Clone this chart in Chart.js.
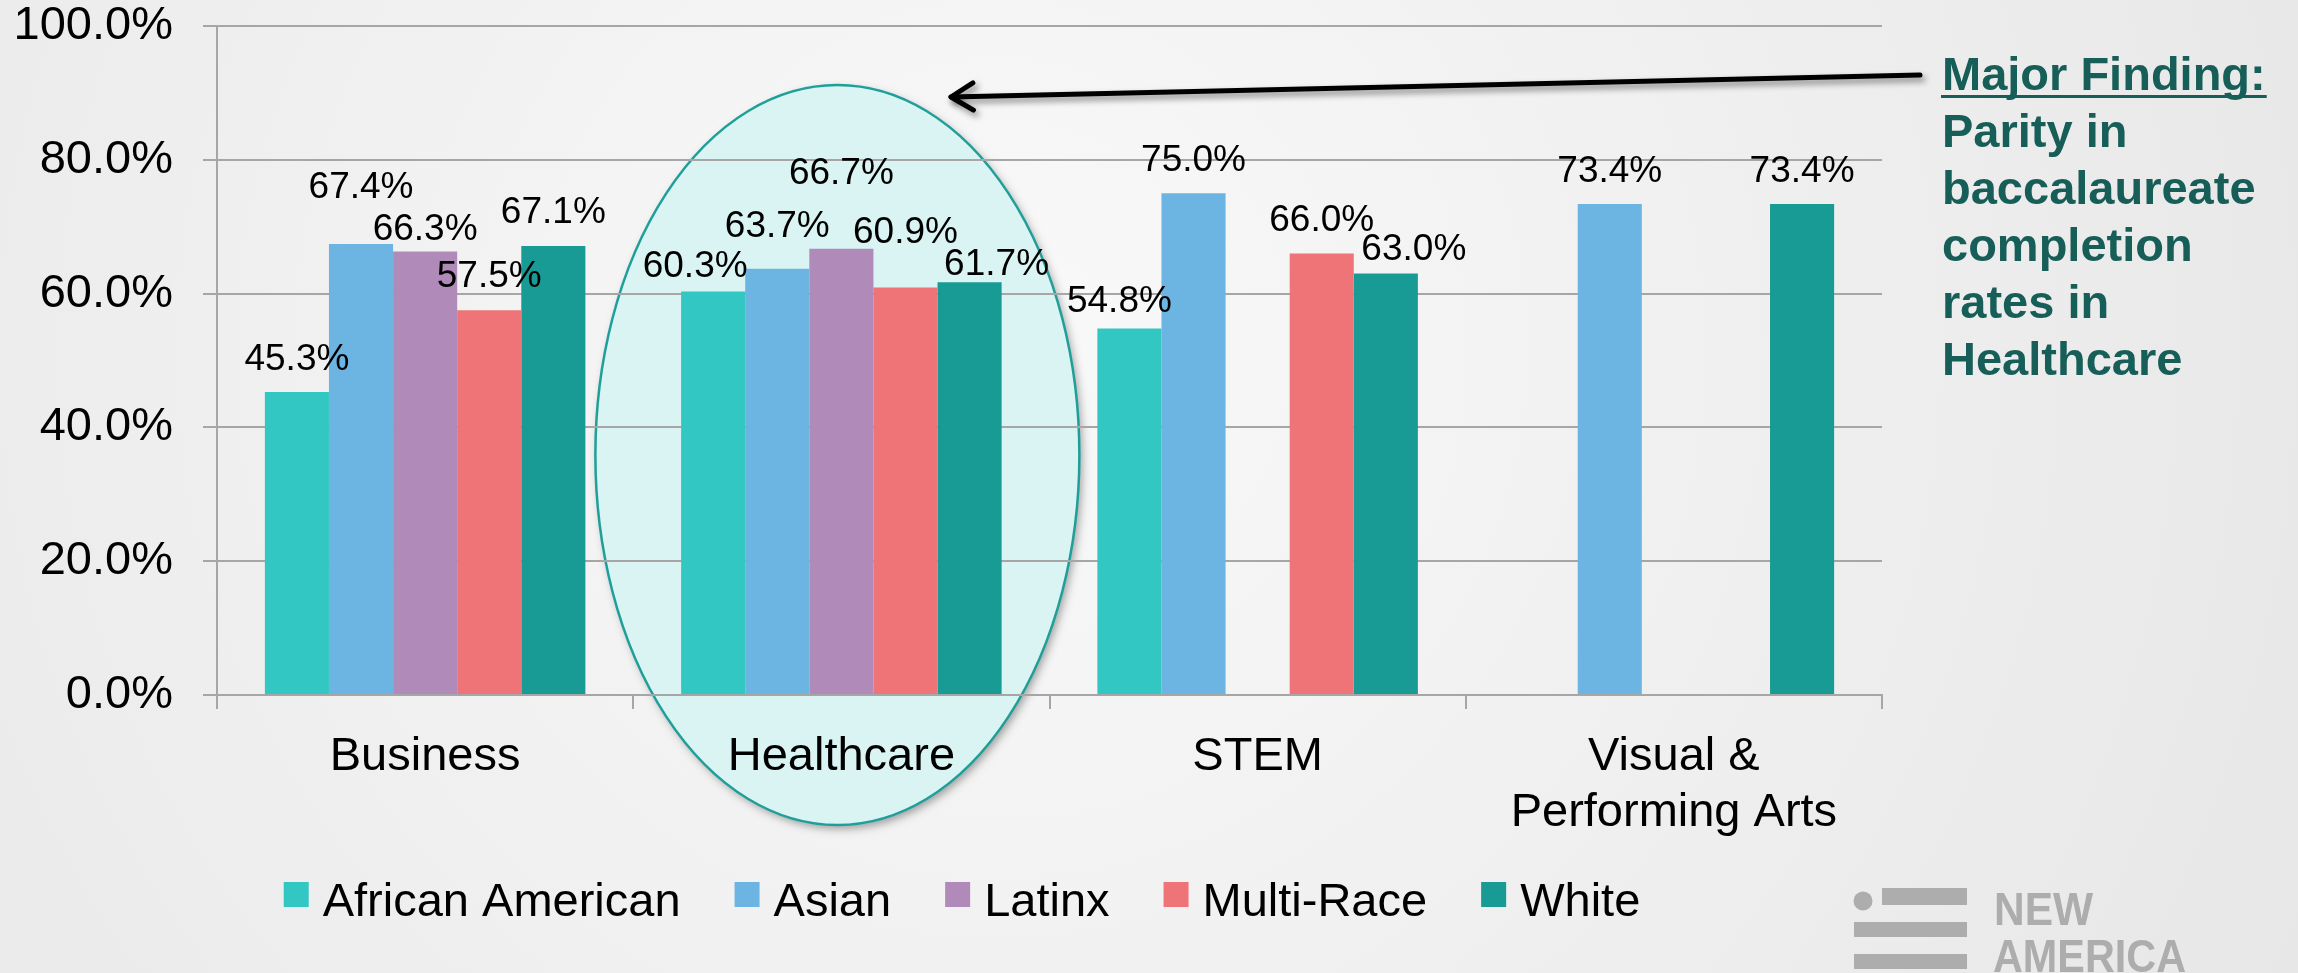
<!DOCTYPE html>
<html>
<head>
<meta charset="utf-8">
<script src="https://cdn.jsdelivr.net/npm/chart.js@4.4.1/dist/chart.umd.min.js"></script>
<style>
  html, body { margin: 0; padding: 0; background: #eeeeee; }
  #wrap { width: 2298px; height: 973px; }
</style>
</head>
<body>
<div id="wrap"><canvas id="myChart" width="2298" height="973"></canvas></div>
<script>
// data (percent completion)
var categories = ["Business", "Healthcare", "STEM", ["Visual &", "Performing Arts"]];
var africanAmerican = [45.3, 60.3, 54.8, null];
var asian = [67.4, 63.7, 75.0, 73.4];
var latinx = [66.3, 66.7, null, null];
var multiRace = [57.5, 60.9, 66.0, null];
var white = [67.1, 61.7, 63.0, 73.4];
var yTicks = [0, 20, 40, 60, 80, 100];
var seriesNames = ["African American", "Asian", "Latinx", "Multi-Race", "White"];

var seriesColors = ["#33c7c3", "#6cb4e1", "#b08bba", "#ee7477", "#189b95"];
var FONT = "'Liberation Sans', Arial, sans-serif";
var GRID = "#a6a6a6";

// hand nudges of the value labels (px), one [dx, dy] per bar, like on the slide
var labelNudge = [
  [[0, 0], [-18, 7], [-10, 6], [0, 0]],
  [[0, -24], [0, -10], [0, 0], [0, 0]],
  [[0, 11], [0, -43], [0, 0], [0, 0]],
  [[0, -1], [0, -23], [0, 0], [0, 0]],
  [[0, -1], [27, 15], [28, 8], [0, 0]]
];

var seriesValues = [africanAmerican, asian, latinx, multiRace, white];

// background, and the ellipse round Healthcare (under the grid)
var backdrop = {
  id: "backdrop",
  beforeDraw: function(chart) {
    var ctx = chart.ctx;
    ctx.save();
    var g = ctx.createRadialGradient(1000, 350, 0, 1000, 350, 1500);
    g.addColorStop(0, "#f9f9f9");
    g.addColorStop(1, "#e6e6e6");
    ctx.fillStyle = g;
    ctx.fillRect(0, 0, chart.width, chart.height);

    var cx = chart.scales.x.getPixelForValue(1) - 4;
    ctx.beginPath();
    ctx.ellipse(cx, 455, 242, 370, 0, 0, Math.PI * 2);
    ctx.shadowColor = "rgba(0,0,0,0.35)";
    ctx.shadowBlur = 8;
    ctx.shadowOffsetX = 3;
    ctx.shadowOffsetY = 4;
    ctx.fillStyle = "#d9f4f3";
    ctx.fill();
    ctx.shadowColor = "transparent";
    ctx.lineWidth = 2.5;
    ctx.strokeStyle = "#1f9f99";
    ctx.stroke();
    ctx.restore();
  }
};

// value labels above the bars
var valueLabels = {
  id: "valueLabels",
  afterDatasetsDraw: function(chart) {
    var ctx = chart.ctx;
    ctx.save();
    ctx.font = "37px " + FONT;
    ctx.fillStyle = "#000";
    ctx.textAlign = "center";
    ctx.textBaseline = "alphabetic";
    chart.data.datasets.forEach(function(ds, di) {
      var meta = chart.getDatasetMeta(di);
      meta.data.forEach(function(bar, i) {
        var v = ds.data[i];
        if (v === null) return;
        var n = labelNudge[di][i];
        ctx.fillText(v.toFixed(1) + "%", bar.x + n[0], bar.y - 22 + n[1]);
      });
    });
    ctx.restore();
  }
};

// legend, arrow, call-out text and logo
var extras = {
  id: "extras",
  afterDraw: function(chart) {
    var ctx = chart.ctx;
    ctx.save();

    // legend
    ctx.font = "47px " + FONT;
    ctx.textBaseline = "alphabetic";
    ctx.textAlign = "left";
    var box = 25, gapIn = 14, gapOut = 54;
    var widths = seriesNames.map(function(s) { return ctx.measureText(s).width; });
    var total = 0;
    widths.forEach(function(w) { total += box + gapIn + w; });
    total += gapOut * (widths.length - 1);
    var lx = 962 - total / 2;
    chart.data.datasets.forEach(function(ds, i) {
      ctx.fillStyle = ds.backgroundColor;
      ctx.fillRect(lx, 882, box, box);
      ctx.fillStyle = "#000";
      ctx.fillText(ds.label, lx + box + gapIn, 916);
      lx += box + gapIn + widths[i] + gapOut;
    });

    // arrow
    ctx.shadowColor = "rgba(0,0,0,0.45)";
    ctx.shadowBlur = 6;
    ctx.shadowOffsetX = 3;
    ctx.shadowOffsetY = 4;
    ctx.strokeStyle = "#000";
    ctx.lineWidth = 5;
    ctx.lineCap = "round";
    ctx.lineJoin = "round";
    var tx = 951, ty = 97, sx = 1920, sy = 75;
    var ang = Math.atan2(sy - ty, sx - tx);
    ctx.beginPath();
    ctx.moveTo(sx, sy);
    ctx.lineTo(tx, ty);
    ctx.stroke();
    ctx.beginPath();
    ctx.moveTo(tx + 26 * Math.cos(ang - 0.55), ty + 26 * Math.sin(ang - 0.55));
    ctx.lineTo(tx, ty);
    ctx.lineTo(tx + 26 * Math.cos(ang + 0.55), ty + 26 * Math.sin(ang + 0.55));
    ctx.stroke();
    ctx.shadowColor = "transparent";

    // call-out
    var lines = ["Major Finding:", "Parity in", "baccalaureate", "completion", "rates in", "Healthcare"];
    var base = [90, 147, 204, 261, 318, 375];
    ctx.font = "bold 47px " + FONT;
    ctx.fillStyle = "#175e58";
    lines.forEach(function(t, i) { ctx.fillText(t, 1942, base[i]); });
    ctx.fillRect(1941, 95, ctx.measureText(lines[0]).width + 2, 3);

    // New America logo
    ctx.fillStyle = "#adadad";
    ctx.beginPath();
    ctx.arc(1863, 901, 9.5, 0, Math.PI * 2);
    ctx.fill();
    ctx.fillRect(1882, 888, 85, 17);
    ctx.fillRect(1854, 922, 113, 15);
    ctx.fillRect(1854, 954, 113, 15);
    ctx.font = "900 47px " + FONT;
    ctx.fillText("NEW", 1994, 925, 99);
    ctx.fillText("AMERICA", 1993, 972, 193);

    ctx.restore();
  }
};

var datasets = seriesNames.map(function(name, i) {
  return {
    label: name,
    data: seriesValues[i],
    backgroundColor: seriesColors[i],
    borderWidth: 0,
    categoryPercentage: 0.77,
    barPercentage: 1.0
  };
});

var ctx = document.getElementById("myChart").getContext("2d");
var chart = new Chart(ctx, {
  type: "bar",
  data: { labels: categories, datasets: datasets },
  plugins: [backdrop, valueLabels, extras],
  options: {
    responsive: false,
    animation: false,
    devicePixelRatio: 1,
    layout: { padding: { top: 26, right: 416, left: 0, bottom: 0 } },
    plugins: { legend: { display: false }, tooltip: { enabled: false } },
    scales: {
      x: {
        offset: true,
        afterFit: function(s) { s.height = 278; s.paddingLeft = 0; s.paddingRight = 0; },
        grid: { display: true, drawOnChartArea: false, drawTicks: true, tickLength: 14, color: GRID, lineWidth: 2, offset: true },
        border: { display: true, color: GRID, width: 2 },
        ticks: { color: "#000", padding: 20, maxRotation: 0, autoSkip: false, font: { family: FONT, size: 47, lineHeight: 1.19 } }
      },
      y: {
        min: 0,
        max: 100,
        // fixed width, and no extra room for the end labels (keeps the plot top at 100%)
        afterFit: function(s) { s.width = 217; s.paddingTop = 0; s.paddingBottom = 0; },
        afterBuildTicks: function(s) { s.ticks = yTicks.map(function(v) { return { value: v }; }); },
        grid: { color: GRID, lineWidth: 2, tickLength: 14, drawTicks: true },
        border: { display: true, color: GRID, width: 2 },
        ticks: {
          color: "#000",
          padding: 30,
          font: { family: FONT, size: 47, lineHeight: 1 },
          callback: function(v) { return v.toFixed(1) + "%"; }
        }
      }
    }
  }
});
</script>
</body>
</html>
